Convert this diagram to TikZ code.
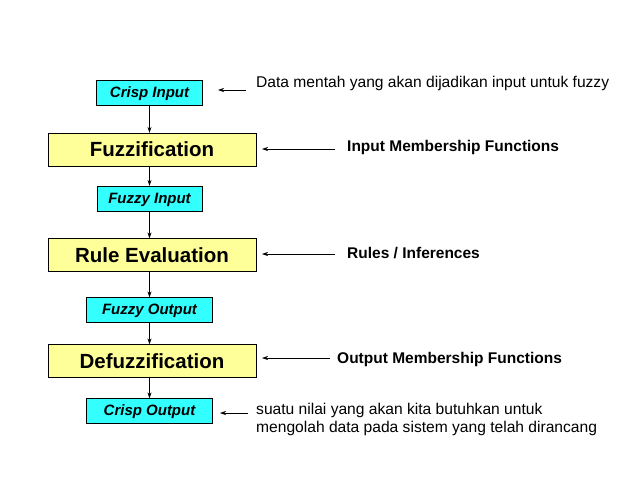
\documentclass[tikz,border=0pt]{standalone}
\usepackage{fontspec}
\setmainfont{Liberation Sans}
\usetikzlibrary{arrows.meta}
\definecolor{cy}{HTML}{33FFFF}
\definecolor{yl}{HTML}{FFFF99}
\begin{document}
\begin{tikzpicture}[x=1pt,y=-1pt,
 small/.style={draw,fill=cy,minimum height=25pt,font=\fontsize{15}{17}\selectfont\bfseries\itshape,inner sep=0pt,text depth=0pt,text height=9pt},
 big/.style={draw,fill=yl,minimum width=208pt,minimum height=33pt,font=\fontsize{20.5}{23}\selectfont\bfseries,inner sep=0pt},
 ann/.style={anchor=west,font=\fontsize{15.6}{18}\selectfont,inner sep=0pt},
 annb/.style={ann,font=\fontsize{15.5}{18}\selectfont\bfseries},
 arr/.style={-{Stealth[length=6pt,width=4pt]},line width=0.6pt}]
\useasboundingbox (0,0) rectangle (638,479);
\node[small,minimum width=106pt] (ci) at (149.5,92.5) {Crisp Input};
\node[big] (fz) at (152,149.5) {Fuzzification};
\node[small,minimum width=105pt] (fi) at (149.5,198.5) {Fuzzy Input};
\node[big] (re) at (152,255) {Rule Evaluation};
\node[small,minimum width=126pt] (fo) at (149.5,310) {Fuzzy Output};
\node[big] (dz) at (152,361) {Defuzzification};
\node[small,minimum width=126pt] (co) at (149.5,411) {Crisp Output};
\foreach \a/\b in {ci/fz,fz/fi,fi/re,re/fo,fo/dz,dz/co} \draw[arr] (\a.south -| ci.south) -- (\b.north -| ci.south);
\node[ann] (t1) at (256,83) {Data mentah yang akan dijadikan input untuk fuzzy};
\node[annb] (t2) at (347,147) {Input Membership Functions};
\node[annb] (t3) at (347,253) {Rules / Inferences};
\node[annb] (t4) at (337,359) {Output Membership Functions};
\node[ann,align=left] (t5) at (256,419) {suatu nilai yang akan kita butuhkan untuk\\mengolah data pada sistem yang telah dirancang};
\coordinate (a1) at (246,90); \coordinate (b1) at (218,90);
\coordinate (a2) at (335,149); \coordinate (b2) at (262,149);
\coordinate (a3) at (335,254); \coordinate (b3) at (262,254);
\coordinate (a4) at (330,358); \coordinate (b4) at (262,358);
\coordinate (a5) at (248,413); \coordinate (b5) at (220,413);
\foreach \i in {1,...,5} \draw[arr] (a\i) -- (b\i);
\end{tikzpicture}
\end{document}
